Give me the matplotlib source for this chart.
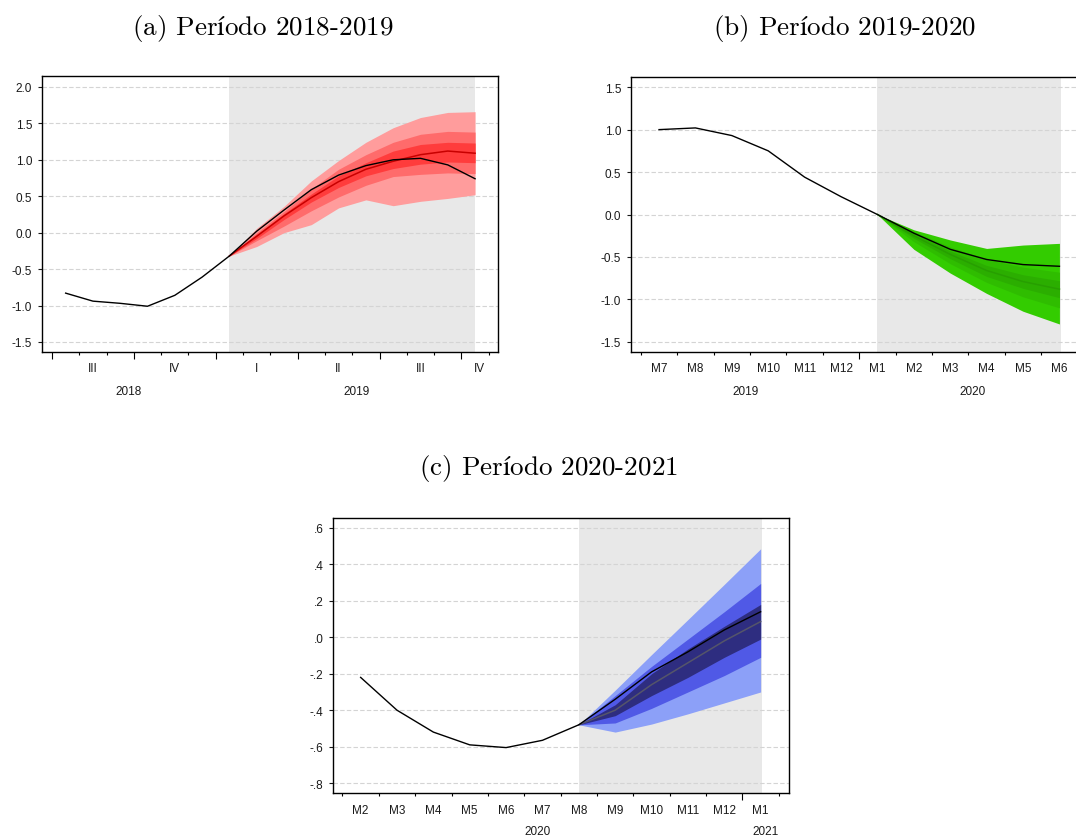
import matplotlib
matplotlib.use("Agg")
import matplotlib.pyplot as plt
from matplotlib.ticker import FixedLocator, FuncFormatter

plt.rcParams['font.family'] = ['Liberation Sans', 'DejaVu Sans']
plt.rcParams['axes.unicode_minus'] = False
plt.rcParams['mathtext.fontset'] = 'cm'

#DATA

# (a) monthly, Jul 2018 .. Oct 2019 ; fan starts Jan 2019
a_actual = [-0.83, -0.94, -0.97, -1.01, -0.86, -0.61, -0.32, 0.02, 0.31, 0.59,
            0.79, 0.92, 1.00, 1.02, 0.93, 0.74]
a_median = [-0.32, -0.05, 0.23, 0.48, 0.70, 0.87, 0.98, 1.07, 1.12, 1.09]
a_outer_hi = [-0.32, 0.06, 0.36, 0.71, 0.99, 1.24, 1.44, 1.58, 1.65, 1.66]
a_outer_lo = [-0.32, -0.19, 0.00, 0.11, 0.34, 0.45, 0.37, 0.43, 0.47, 0.52]
a_mid_hi = [-0.32, 0.00, 0.29, 0.60, 0.87, 1.07, 1.24, 1.35, 1.39, 1.38]
a_mid_lo = [-0.32, -0.11, 0.09, 0.30, 0.49, 0.65, 0.77, 0.80, 0.82, 0.81]
a_in_hi = [-0.32, -0.02, 0.26, 0.53, 0.78, 0.96, 1.12, 1.21, 1.24, 1.23]
a_in_lo = [-0.32, -0.08, 0.18, 0.42, 0.62, 0.78, 0.88, 0.94, 0.97, 0.96]
a_quarters = ['III', 'IV', 'I', 'II', 'III', 'IV']
a_years = ['2018', '2019']
a_yticks = [-1.5, -1.0, -0.5, 0.0, 0.5, 1.0, 1.5, 2.0]

# (b) monthly, M7 2019 .. M6 2020 ; fan starts M1 2020
b_months = ['M7', 'M8', 'M9', 'M10', 'M11', 'M12', 'M1', 'M2', 'M3', 'M4', 'M5', 'M6']
b_actual = [1.00, 1.02, 0.93, 0.75, 0.44, 0.21, 0.00, -0.22, -0.41, -0.53, -0.59, -0.61]
b_median = [0.0, -0.25, -0.47, -0.66, -0.79, -0.88]
b_outer_hi = [0.0, -0.18, -0.30, -0.40, -0.36, -0.34]
b_outer_lo = [0.0, -0.41, -0.69, -0.93, -1.14, -1.29]
b_mid_hi = [0.0, -0.20, -0.38, -0.53, -0.62, -0.68]
b_mid_lo = [0.0, -0.32, -0.58, -0.80, -0.97, -1.10]
b_in_hi = [0.0, -0.22, -0.43, -0.60, -0.71, -0.78]
b_in_lo = [0.0, -0.28, -0.52, -0.73, -0.87, -0.98]
b_years = ['2019', '2020']
b_yticks = [-1.5, -1.0, -0.5, 0.0, 0.5, 1.0, 1.5]

# (c) monthly, M2 2020 .. M1 2021 ; fan starts M8 2020
c_months = ['M2', 'M3', 'M4', 'M5', 'M6', 'M7', 'M8', 'M9', 'M10', 'M11', 'M12', 'M1']
c_actual = [-0.22, -0.40, -0.52, -0.59, -0.605, -0.565, -0.48, -0.34, -0.19, -0.08, 0.04, 0.14]
c_median = [-0.48, -0.40, -0.26, -0.14, -0.02, 0.086]
c_outer_hi = [-0.48, -0.29, -0.095, 0.097, 0.29, 0.485]
c_outer_lo = [-0.48, -0.52, -0.476, -0.42, -0.36, -0.30]
c_mid_hi = [-0.48, -0.32, -0.16, -0.01, 0.14, 0.295]
c_mid_lo = [-0.48, -0.47, -0.39, -0.30, -0.21, -0.11]
c_in_hi = [-0.48, -0.37, -0.20, -0.064, 0.06, 0.18]
c_in_lo = [-0.48, -0.43, -0.32, -0.22, -0.11, -0.01]
c_years = ['2020', '2021']
c_yticks = [-0.8, -0.6, -0.4, -0.2, 0.0, 0.2, 0.4, 0.6]

titles = ['(a) Per$\\mathrm{í}$odo 2018-2019',
          '(b) Per$\\mathrm{í}$odo 2019-2020',
          '(c) Per$\\mathrm{í}$odo 2020-2021']

W, H = 1076, 837
TICK_FS = 8.5
TITLE_FS = 19.5
TITLE_FONT = ['cmr10', 'DejaVu Serif']


#HELPERS

def make_axes(fig, x0, y0, x1, y1):
	return fig.add_axes([x0 / W, 1 - y1 / H, (x1 - x0) / W, (y1 - y0) / H])


def base_style(ax, xlim, ylim, yticks, fmt):
	ax.set_xlim(*xlim)
	ax.set_ylim(*ylim)
	ax.set_axisbelow(True)
	ax.yaxis.set_major_locator(FixedLocator(yticks))
	ax.yaxis.set_major_formatter(FuncFormatter(fmt))
	ax.yaxis.grid(True, color='#d4d4d4', linestyle=(0, (4, 2)), linewidth=0.8)
	ax.tick_params(axis='y', direction='out', length=3, width=0.8, pad=4,
	               labelsize=TICK_FS, colors='#1a1a1a')
	ax.tick_params(axis='x', which='major', direction='out', length=4.8, width=0.8,
	               labelbottom=False)
	ax.tick_params(axis='x', which='minor', direction='out', length=2.4, width=0.8,
	               labelbottom=False)
	for s in ax.spines.values():
		s.set_linewidth(1.0)
		s.set_color('black')


def draw_fan(ax, start, bands, colors, median, median_color, actual):
	xs = list(range(start, start + len(median)))
	z = 1.0
	for (lo, hi), col in zip(bands, colors):
		ax.fill_between(xs, lo, hi, color=col, linewidth=0, zorder=z)
		z += 0.1
	ax.plot(xs, median, color=median_color, linewidth=1.1, zorder=2)
	ax.plot(range(len(actual)), actual, color='black', linewidth=1.0, zorder=3)


def bottom_label(ax, x, text, offset_px):
	ax.annotate(text, xy=(x, 0), xycoords=ax.get_xaxis_transform(),
	            xytext=(0, -offset_px * 0.72), textcoords='offset points',
	            ha='center', va='center', fontsize=TICK_FS, color='#1a1a1a',
	            annotation_clip=False)


def panel_title(fig, xc, baseline, text):
	fig.text(xc / W, 1 - baseline / H, text, ha='center', va='baseline',
	         fontsize=TITLE_FS, family=TITLE_FONT)


def fmt_one(v, pos):
	return '%.1f' % v


def fmt_noleading(v, pos):
	s = '%.1f' % v
	return s.replace('0.', '.')


#FIGURE

fig = plt.figure(figsize=(W / 100, H / 100), dpi=100)

# (a)
ax = make_axes(fig, 42, 77, 498, 353)
xlim = (-0.866, 15.84)
base_style(ax, xlim, (-1.638, 2.15), a_yticks, fmt_one)
ax.axvspan(6, 15, color='#e8e8e8', linewidth=0, zorder=0.2)
draw_fan(ax, 6,
         [(a_outer_lo, a_outer_hi), (a_mid_lo, a_mid_hi), (a_in_lo, a_in_hi)],
         ['#ff9c9c', '#ff6b6b', '#ff3c3c'], a_median, '#c80000', a_actual)
qbounds = [-0.5, 2.5, 5.5, 8.5, 11.5, 14.5]
ax.xaxis.set_major_locator(FixedLocator(qbounds))
ax.xaxis.set_minor_locator(FixedLocator([b + k for b in qbounds for k in (1, 2)
                                         if b + k < xlim[1]]))
qedges = qbounds + [xlim[1]]
for i, q in enumerate(a_quarters):
	bottom_label(ax, (qedges[i] + min(qedges[i + 1], xlim[1])) / 2, q, 16)
bottom_label(ax, (xlim[0] + 5.5) / 2, a_years[0], 39)
bottom_label(ax, (5.5 + xlim[1]) / 2, a_years[1], 39)
panel_title(fig, 263, 35, titles[0])

# (b)
ax = make_axes(fig, 631, 78, 1086, 353)
xlim = (-0.77, 11.73)
base_style(ax, xlim, (-1.62, 1.62), b_yticks, fmt_one)
ax.axvspan(6, 11.03, color='#e8e8e8', linewidth=0, zorder=0.2)
draw_fan(ax, 6,
         [(b_outer_lo, b_outer_hi), (b_mid_lo, b_mid_hi), (b_in_lo, b_in_hi)],
         ['#33cc00', '#2fbd00', '#2bae00'], b_median, '#279f00', b_actual)
ax.xaxis.set_major_locator(FixedLocator([5.5]))
ax.xaxis.set_minor_locator(FixedLocator([i - 0.5 for i in range(13) if i != 6]))
for i, m in enumerate(b_months):
	bottom_label(ax, i, m, 16)
bottom_label(ax, (xlim[0] + 5.5) / 2, b_years[0], 39)
bottom_label(ax, (5.5 + xlim[1]) / 2, b_years[1], 39)
panel_title(fig, 844, 35, titles[1])

# (c)
ax = make_axes(fig, 333, 519, 789, 794)
xlim = (-0.76, 11.78)
base_style(ax, xlim, (-0.854, 0.654), c_yticks, fmt_noleading)
ax.axvspan(6, 11.03, color='#e8e8e8', linewidth=0, zorder=0.2)
draw_fan(ax, 6,
         [(c_outer_lo, c_outer_hi), (c_mid_lo, c_mid_hi), (c_in_lo, c_in_hi)],
         ['#8ca0f8', '#5059e6', '#2e2d80'], c_median, '#55556a', c_actual)
ax.xaxis.set_major_locator(FixedLocator([10.5]))
ax.xaxis.set_minor_locator(FixedLocator([i - 0.5 for i in range(13) if i != 11]))
for i, m in enumerate(c_months):
	bottom_label(ax, i, m, 17)
bottom_label(ax, (xlim[0] + 10.5) / 2, c_years[0], 38)
bottom_label(ax, (10.5 + xlim[1]) / 2, c_years[1], 38)
panel_title(fig, 548, 475, titles[2])

fig.savefig('out.png', dpi=100)
